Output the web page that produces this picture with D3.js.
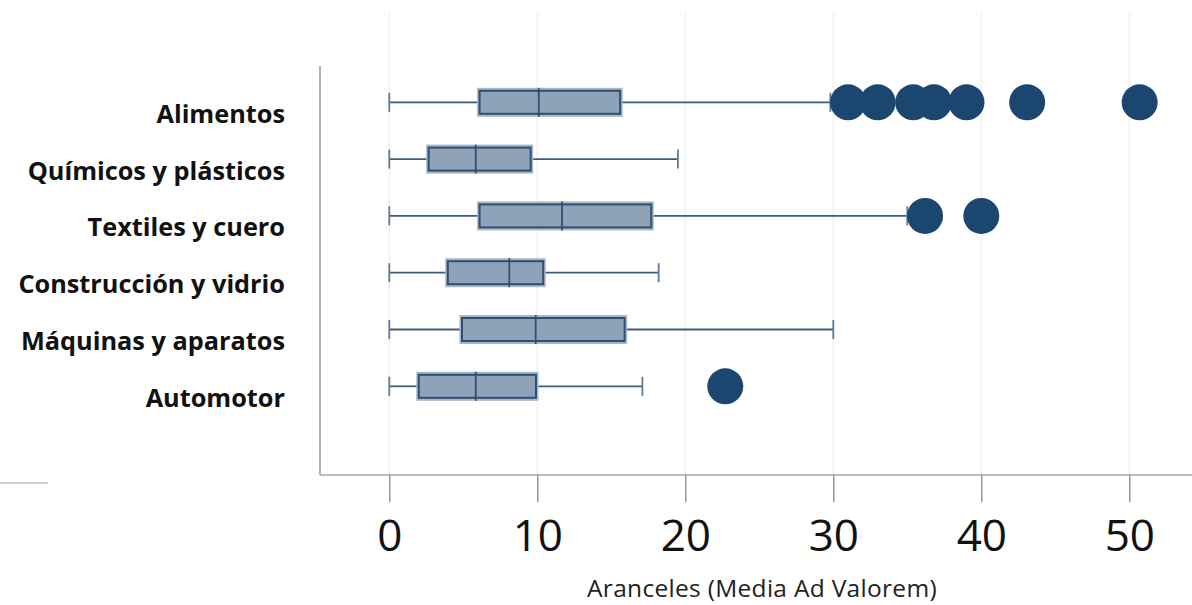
<!DOCTYPE html>
<html><head><meta charset="utf-8">
<script src="https://cdn.jsdelivr.net/npm/d3@7"></script>
<style>body{margin:0;background:#fff}svg{display:block}</style>
</head><body><svg id="c" width="1192" height="605"></svg>
<script>
const categories = ["Alimentos","Químicos y plásticos","Textiles y cuero","Construcción y vidrio","Máquinas y aparatos","Automotor"];
const whiskerLow = [0,0,0,0,0,0];
const q1 = [6.1,2.66,6.1,3.95,4.91,1.99];
const median = [10.1,5.84,11.67,8.11,9.89,5.84];
const q3 = [15.6,9.55,17.7,10.4,15.9,9.91];
const whiskerHigh = [29.8,19.5,35.0,18.2,30.0,17.1];
const outliers = [[31.0,33.0,35.4,36.8,39.0,43.1,50.7],[],[36.2,40.0],[],[],[22.7]];
const tickValues = [0,10,20,30,40,50];
const xTitle = "Aranceles (Media Ad Valorem)";

const svg = d3.select("#c");
const x = d3.scaleLinear().domain([0,50]).range([389.3,1129.3]);
const y = d3.scalePoint().domain(categories).range([102.3,386.3]);
const plotLeft = 320, plotBottom = 475, plotTop = 66, gridTop = 13;

// gridlines
svg.append("g").selectAll("line").data(tickValues).join("line")
  .attr("x1",d=>x(d)).attr("x2",d=>x(d)).attr("y1",gridTop).attr("y2",plotBottom)
  .attr("stroke","#ececec").attr("stroke-width",1.2);

// frame lines
svg.append("line").attr("x1",plotLeft).attr("x2",plotLeft).attr("y1",plotTop).attr("y2",plotBottom)
  .attr("stroke","#8a8a8a").attr("stroke-width",1.3);
svg.append("line").attr("x1",plotLeft).attr("x2",1192).attr("y1",plotBottom).attr("y2",plotBottom)
  .attr("stroke","#aaaaaa").attr("stroke-width",1.6);
svg.append("line").attr("x1",0).attr("x2",48).attr("y1",483).attr("y2",483)
  .attr("stroke","#a0a0a0").attr("stroke-width",1.2);

// x axis
const ax = svg.append("g").attr("transform",`translate(0,${plotBottom})`)
  .call(d3.axisBottom(x).tickValues(tickValues).tickSize(27).tickPadding(18).tickFormat(d3.format("d")));
ax.select(".domain").remove();
ax.selectAll(".tick line").attr("stroke","#888").attr("stroke-width",1.3);
ax.selectAll(".tick text").attr("font-family","'Open Sans', sans-serif").attr("font-size",44).attr("fill","#111");

svg.append("text").attr("x",762).attr("y",597).attr("text-anchor","middle")
  .attr("font-family","'Open Sans', sans-serif").attr("font-size",24.5).attr("letter-spacing",0.3)
  .attr("fill","#222").text(xTitle);

// labels
svg.append("g").selectAll("text").data(categories).join("text")
  .attr("x",285).attr("y",d=>y(d)+20.5).attr("text-anchor","end")
  .attr("font-family","'Open Sans', sans-serif").attr("font-weight",700).attr("font-size",25.3)
  .attr("fill","#111").text(d=>d);

const whiskColor = "#3a5d80", darkBox = "#2d4f73";
const g = svg.append("g");
categories.forEach((c,i)=>{
  const cy = y(c);
  g.append("line").attr("x1",x(whiskerLow[i])).attr("x2",x(q1[i])).attr("y1",cy).attr("y2",cy)
    .attr("stroke",whiskColor).attr("stroke-width",1.8);
  g.append("line").attr("x1",x(q3[i])).attr("x2",x(whiskerHigh[i])).attr("y1",cy).attr("y2",cy)
    .attr("stroke",whiskColor).attr("stroke-width",1.8);
  [whiskerLow[i],whiskerHigh[i]].forEach(v=>{
    g.append("line").attr("x1",x(v)).attr("x2",x(v)).attr("y1",cy-9.5).attr("y2",cy+9.5)
      .attr("stroke","#5c7b99").attr("stroke-width",1.8);
  });
  g.append("rect").attr("x",x(q1[i])-2.5).attr("width",x(q3[i])-x(q1[i])+5)
    .attr("y",cy-14.5).attr("height",29).attr("fill","#a8b7c7");
  g.append("rect").attr("x",x(q1[i])).attr("width",x(q3[i])-x(q1[i]))
    .attr("y",cy-11.5).attr("height",23).attr("fill","#8ea3b8").attr("stroke",darkBox).attr("stroke-width",2);
  g.append("line").attr("x1",x(median[i])).attr("x2",x(median[i])).attr("y1",cy-14.5).attr("y2",cy+14.5)
    .attr("stroke",darkBox).attr("stroke-width",1.8);
  g.selectAll(null).data(outliers[i]).join("circle")
    .attr("cx",d=>x(d)).attr("cy",cy).attr("r",18).attr("fill","#1b4670");
});
</script></body></html>
